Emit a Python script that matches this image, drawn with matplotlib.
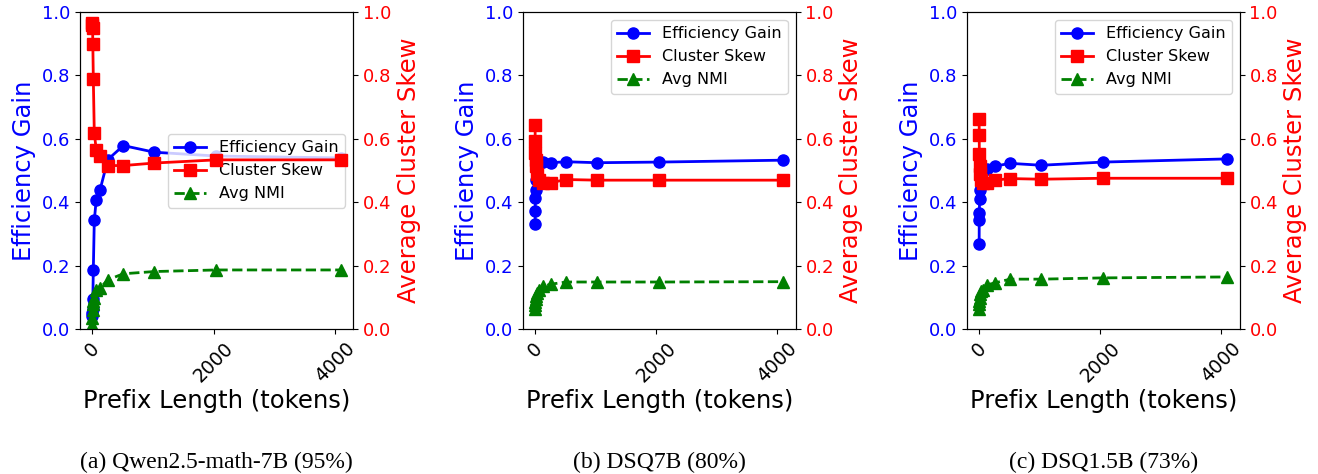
import matplotlib
matplotlib.use("Agg")
import matplotlib.pyplot as plt

prefix_len = [1, 2, 4, 8, 16, 32, 64, 128, 256, 512, 1024, 2048, 4096]
x_ticks = [0, 2000, 4000]

titles = [
    "(a) Qwen2.5-math-7B (95%)",
    "(b) DSQ7B (80%)",
    "(c) DSQ1.5B (73%)",
]

# Qwen2.5-math-7B
qwen_gain = [0.042, 0.05, 0.063, 0.095, 0.187, 0.343, 0.408, 0.44, 0.535, 0.579, 0.558, 0.546, 0.54]
qwen_skew = [0.966, 0.958, 0.95, 0.898, 0.79, 0.619, 0.566, 0.545, 0.516, 0.516, 0.524, 0.534, 0.534]
qwen_nmi = [0.014, 0.035, 0.06, 0.08, 0.09, 0.10, 0.125, 0.13, 0.156, 0.175, 0.182, 0.187, 0.187]

# DSQ7B
dsq7_gain = [0.333, 0.372, 0.413, 0.438, 0.47, 0.50, 0.52, 0.528, 0.525, 0.528, 0.525, 0.527, 0.533]
dsq7_skew = [0.643, 0.593, 0.555, 0.535, 0.515, 0.49, 0.47, 0.462, 0.462, 0.472, 0.47, 0.47, 0.47]
dsq7_nmi = [0.065, 0.075, 0.085, 0.095, 0.105, 0.115, 0.125, 0.135, 0.142, 0.149, 0.149, 0.149, 0.15]

# DSQ1.5B
dsq15_gain = [0.268, 0.344, 0.365, 0.412, 0.44, 0.47, 0.50, 0.505, 0.514, 0.523, 0.517, 0.527, 0.537]
dsq15_skew = [0.664, 0.612, 0.554, 0.514, 0.49, 0.47, 0.46, 0.46, 0.47, 0.475, 0.473, 0.476, 0.476]
dsq15_nmi = [0.065, 0.08, 0.09, 0.10, 0.11, 0.12, 0.125, 0.14, 0.146, 0.158, 0.158, 0.162, 0.165]

panels = [
    (qwen_gain, qwen_skew, qwen_nmi, "center right"),
    (dsq7_gain, dsq7_skew, dsq7_nmi, "upper right"),
    (dsq15_gain, dsq15_skew, dsq15_nmi, "upper right"),
]

fig = plt.figure(figsize=(13.18, 4.74), dpi=100)

lefts = [0.0607, 0.3966, 0.7335]
width = 0.2071
bottom = 0.3053
height = 0.6694

for i, (gain, skew, nmi, loc) in enumerate(panels):
    ax1 = fig.add_axes([lefts[i], bottom, width, height])
    ax2 = ax1.twinx()

    l1, = ax1.plot(prefix_len, gain, "b-o", markersize=8, linewidth=2, label="Efficiency Gain")
    l2, = ax2.plot(prefix_len, skew, "r-s", markersize=8, linewidth=2, label="Cluster Skew")
    l3, = ax2.plot(prefix_len, nmi, "g--^", markersize=8, linewidth=2, label="Avg NMI")

    ax1.set_ylim(0, 1.0)
    ax2.set_ylim(0, 1.0)
    ax1.set_xticks(x_ticks)

    ax1.set_xlabel("Prefix Length (tokens)", fontsize=17.5, labelpad=2)
    ax1.set_ylabel("Efficiency Gain", color="blue", fontsize=17.5)
    ax2.set_ylabel("Average Cluster Skew", color="red", fontsize=17.5)

    ax1.tick_params(axis="y", labelcolor="blue", labelsize=13)
    ax2.tick_params(axis="y", labelcolor="red", labelsize=13)
    ax1.tick_params(axis="x", labelsize=13.5, labelrotation=45)

    ax1.legend(handles=[l1, l2, l3], loc=loc, fontsize=11.5)

    fig.text(lefts[i] + width / 2, 1 - 462 / 474, titles[i], ha="center", va="center",
             fontsize=17, family="Liberation Serif")

plt.savefig("out.png", dpi=100)
